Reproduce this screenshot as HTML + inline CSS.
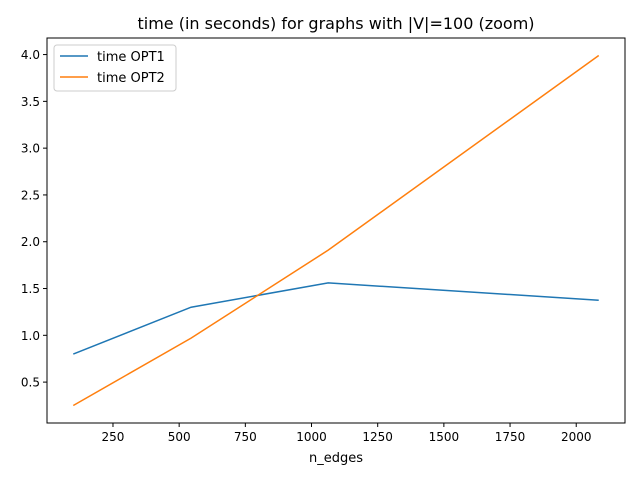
<!DOCTYPE html>
<html><head><meta charset="utf-8"><style>
body{margin:0;background:#fff;font-family:"Liberation Sans","DejaVu Sans",sans-serif}
svg text{font-family:"DejaVu Sans","Liberation Sans",sans-serif}
</style></head><body>
<svg id="chart" width="640" height="480" viewBox="0 0 640 480">
<rect width="640" height="480" fill="#fff"/>
<text x="336" y="29" text-anchor="middle" font-size="16">time (in seconds) for graphs with |V|=100 (zoom)</text>
<g id="xt"></g><g id="yt"></g><g id="lines"></g>
<rect x="47" y="38" width="578" height="385" fill="none" stroke="#000" stroke-width="1"/>
<text x="336" y="462" text-anchor="middle" font-size="13">n_edges</text>
<g>
<rect x="54" y="45" width="122" height="46" rx="3" fill="#fff" stroke="#ccc"/>
<line x1="60" y1="56" x2="88" y2="56" stroke="#1f77b4" stroke-width="1.5"/>
<text x="97" y="61" font-size="13">time OPT1</text>
<line x1="60" y1="77" x2="88" y2="77" stroke="#ff7f0e" stroke-width="1.5"/>
<text x="97" y="82" font-size="13">time OPT2</text>
</g>
</svg>
<script>
const nEdges=[100,545,1063,2085];
const opt1=[0.80,1.30,1.56,1.375];
const opt2=[0.25,0.97,1.91,3.99];
const xTicks=[250,500,750,1000,1250,1500,1750,2000];
const yTicks=[0.5,1.0,1.5,2.0,2.5,3.0,3.5,4.0];
const L=47,R=625,T=38,B=423;
const ns="http://www.w3.org/2000/svg";
const allY=opt1.concat(opt2);
const xmin0=Math.min(...nEdges),xmax0=Math.max(...nEdges),ymin0=Math.min(...allY),ymax0=Math.max(...allY);
const xp=(xmax0-xmin0)*0.05,yp=(ymax0-ymin0)*0.05;
const xmin=xmin0-xp,xmax=xmax0+xp,ymin=ymin0-yp,ymax=ymax0+yp;
const sx=v=>L+(v-xmin)/(xmax-xmin)*(R-L);
const sy=v=>B-(v-ymin)/(ymax-ymin)*(B-T);
function mk(t,a){const e=document.createElementNS(ns,t);for(const k in a)e.setAttribute(k,a[k]);return e;}
const xt=document.getElementById('xt');
xTicks.forEach(v=>{const x=sx(v);
const l=mk('line',{x1:x,x2:x,y1:B,y2:B+4,stroke:'#000'});


xt.appendChild(l);
const t=mk('text',{x:x,y:B+18,'text-anchor':'middle','font-size':12});t.textContent=v;


xt.appendChild(t);});
const yt=document.getElementById('yt');
yTicks.forEach(v=>{const y=sy(v);
const l=mk('line',{x1:L-4,x2:L,y1:y,y2:y,stroke:'#000'});


yt.appendChild(l);
const t=mk('text',{x:L-7,y:y+4.5,'text-anchor':'end','font-size':12});t.textContent=v.toFixed(1);


yt.appendChild(t);});
const lg=document.getElementById('lines');
[[opt1,'#1f77b4','line-opt1'],[opt2,'#ff7f0e','line-opt2']].forEach(([d,c,n])=>{
const p=mk('polyline',{points:d.map((v,i)=>sx(nEdges[i])+','+sy(v)).join(' '),fill:'none',stroke:c,'stroke-width':1.5});


lg.appendChild(p);});
</script>
</body></html>
